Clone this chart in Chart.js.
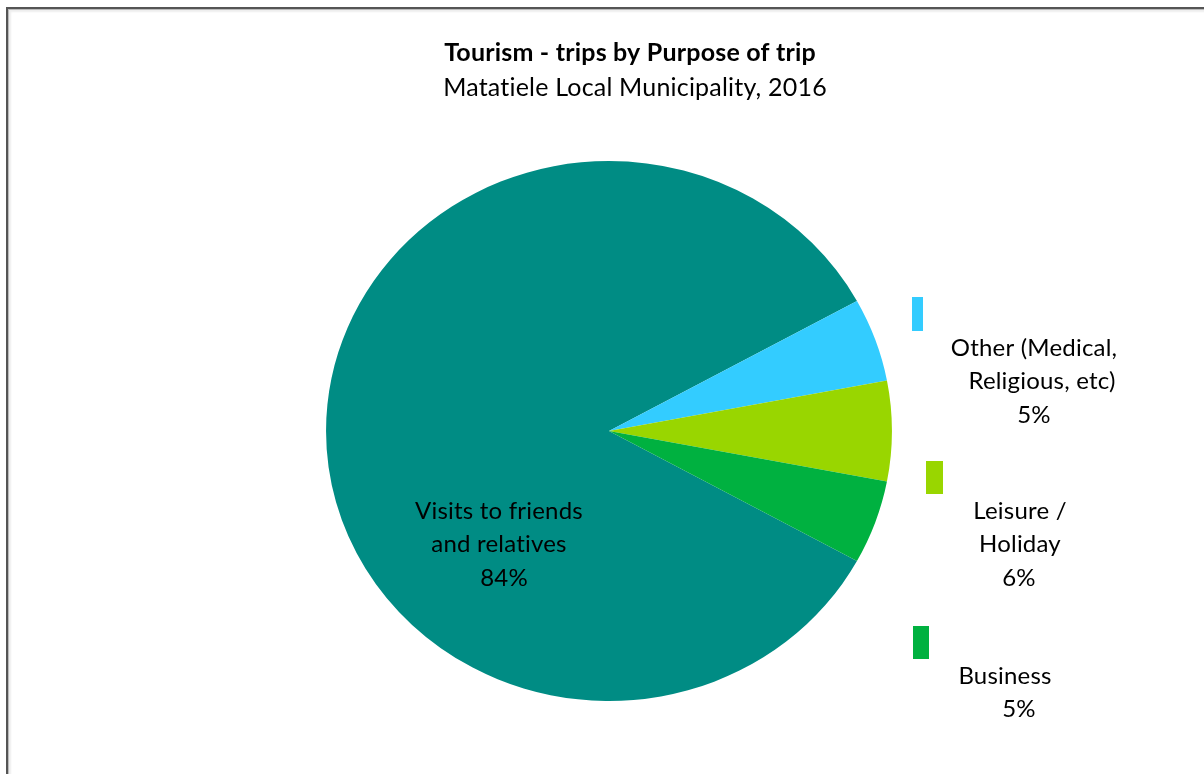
<!DOCTYPE html>
<html>
<head>
<meta charset="utf-8">
<title>Tourism - trips by Purpose of trip</title>
<script src="https://cdn.jsdelivr.net/npm/chart.js@4.4.1/dist/chart.umd.min.js"></script>
<style>
  html, body { margin: 0; padding: 0; background: #fff; }
  #wrap { position: relative; width: 1204px; height: 774px; overflow: hidden; }
  #frame {
    position: absolute; left: 6px; top: 7px; right: -10px; bottom: -10px;
    border-left: 2px solid #555; border-top: 2px solid #555;
    box-shadow: inset 1px 1px 0 #bbb, inset 3px 3px 2px #eee;
    pointer-events: none;
  }
  canvas { position: absolute; left: 0; top: 0; }
</style>
</head>
<body>
<div id="wrap">
  <canvas id="pieChart" width="1204" height="774"></canvas>
  <div id="frame"></div>
</div>
<script>
// trips by purpose, percent of total
const purposes = ['Visits to friends and relatives', 'Other (Medical, Religious, etc)', 'Leisure / Holiday', 'Business'];
const shares = [84, 5, 6, 5];
const sliceColors = ['#008C84', '#33CCFF', '#99D600', '#00B140'];

// how each label is broken into lines
const labelLines = [
  ['Visits to friends', 'and relatives'],
  ['Other (Medical,', 'Religious, etc)'],
  ['Leisure /', 'Holiday'],
  ['Business']
];

const FONT = 'Lato, "Open Sans", sans-serif';

// label placement: centre x of each line, then of the percentage; y of the first line
const labelSpots = [
  { xs: [499, 499], pctX: 504, y: 511 },
  { xs: [1034, 1042], pctX: 1034, y: 348 },
  { xs: [1020, 1020], pctX: 1019, y: 511 },
  { xs: [1005], pctX: 1019, y: 676 }
];
const tabs = [
  null,
  { x: 912, y: 297, w: 11, h: 34 },
  { x: 926, y: 461, w: 17, h: 33 },
  { x: 913, y: 626, w: 16, h: 33 }
];
const lineGap = 33.5;

// the pie in the original is a touch wider than tall
const squash = 1.048;
const ellipsePlugin = {
  id: 'ellipse',
  beforeDatasetsDraw(chart) {
    const arc = chart.getDatasetMeta(0).data[0];
    const ctx = chart.ctx;
    ctx.save();
    ctx.translate(arc.x, arc.y);
    ctx.scale(squash, 1);
    ctx.translate(-arc.x, -arc.y);
  },
  afterDatasetsDraw(chart) {
    chart.ctx.restore();
  }
};

const textPlugin = {
  id: 'texts',
  afterDraw(chart) {
    const ctx = chart.ctx;
    ctx.save();
    ctx.fillStyle = '#000';
    ctx.textAlign = 'center';
    ctx.textBaseline = 'middle';
    // keeps Lato from joining "ti" / "fi"
    ctx.letterSpacing = '0.2px';

    ctx.font = 'bold 25px ' + FONT;
    ctx.fillText('Tourism - trips by Purpose of trip', 630, 53);
    ctx.font = '25px ' + FONT;
    ctx.fillText('Matatiele Local Municipality, 2016', 635, 88);

    const total = shares.reduce((a, b) => a + b, 0);
    ctx.font = '24px ' + FONT;
    shares.forEach((v, i) => {
      const spot = labelSpots[i];
      const lines = labelLines[i];
      lines.forEach((line, k) => {
        ctx.fillText(line, spot.xs[k], spot.y + k * lineGap);
      });
      ctx.fillText(Math.round(v / total * 100) + '%', spot.pctX, spot.y + lines.length * lineGap);

      const t = tabs[i];
      if (t) {
        ctx.fillStyle = sliceColors[i];
        ctx.fillRect(t.x, t.y, t.w, t.h);
        ctx.fillStyle = '#000';
      }
    });
    ctx.restore();
  }
};

new Chart(document.getElementById('pieChart'), {
  type: 'pie',
  data: {
    labels: purposes,
    datasets: [{
      data: shares,
      backgroundColor: sliceColors,
      borderWidth: 0,
      clip: false
    }]
  },
  options: {
    responsive: false,
    animation: false,
    events: [],
    rotation: 118.8,
    layout: { padding: { top: 161, bottom: 73, left: 326, right: 312 } },
    plugins: {
      legend: { display: false },
      title: { display: false },
      tooltip: { enabled: false }
    }
  },
  plugins: [ellipsePlugin, textPlugin]
});
</script>
</body>
</html>
